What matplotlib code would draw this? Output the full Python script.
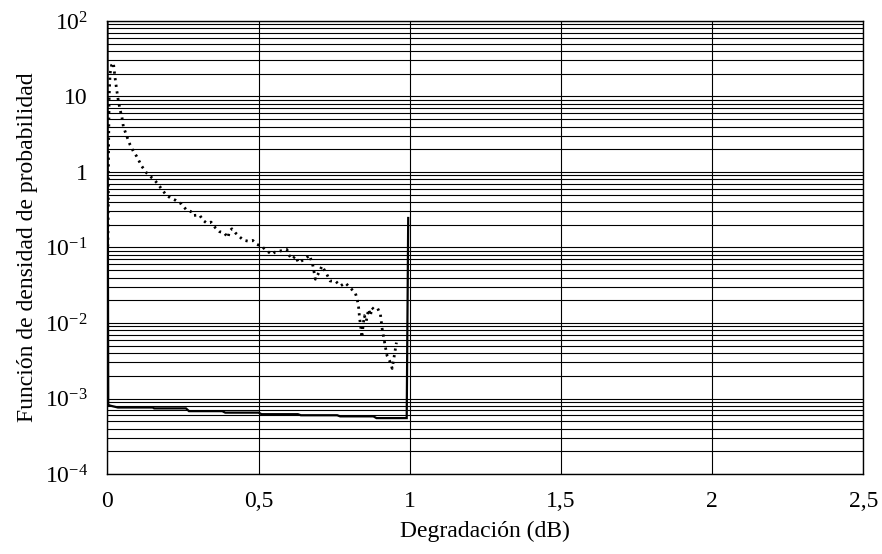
import numpy as np
import matplotlib
matplotlib.use("Agg")
import matplotlib.pyplot as plt
from matplotlib.ticker import FixedLocator, LogLocator, NullFormatter

plt.rcParams['font.family'] = ['Liberation Serif', 'DejaVu Serif']
plt.rcParams['mathtext.fontset'] = 'custom'
plt.rcParams['mathtext.rm'] = 'Liberation Serif'
plt.rcParams['mathtext.it'] = 'Liberation Serif:italic'

# solid curve (step-like)
solid_x = [0.0, 0.003, 0.012, 0.035, 0.15, 0.155, 0.26, 0.27, 0.38, 0.39,
           0.50, 0.51, 0.63, 0.64, 0.76, 0.77, 0.88, 0.89, 0.99, 0.995]
solid_y = [300, 8.2e-4, 8.0e-4, 7.6e-4, 7.6e-4, 7.4e-4, 7.4e-4, 6.8e-4, 6.8e-4, 6.5e-4,
           6.5e-4, 6.2e-4, 6.2e-4, 6.0e-4, 6.0e-4, 5.8e-4, 5.8e-4, 5.5e-4, 5.5e-4, 0.246]

# dotted curve
dot_x = [0.001, 0.003, 0.004, 0.006, 0.009, 0.014, 0.020, 0.025, 0.031, 0.036,
         0.042, 0.048, 0.053, 0.064, 0.075, 0.086, 0.097, 0.114, 0.130, 0.147,
         0.155, 0.169, 0.180, 0.194, 0.208, 0.227, 0.244, 0.260, 0.276, 0.283,
         0.305, 0.316, 0.329, 0.343, 0.357, 0.371, 0.386, 0.399, 0.404, 0.412,
         0.423, 0.437, 0.450, 0.467, 0.481, 0.495, 0.511, 0.528, 0.544, 0.555,
         0.572, 0.594, 0.599, 0.611, 0.622, 0.632, 0.655, 0.669, 0.680, 0.688,
         0.699, 0.710, 0.726, 0.737, 0.754, 0.771, 0.787, 0.804, 0.820, 0.826,
         0.831, 0.834, 0.839, 0.842, 0.846, 0.850, 0.856, 0.864, 0.870, 0.875,
         0.881, 0.894, 0.903, 0.909, 0.914, 0.920, 0.925, 0.936, 0.942, 0.949,
         0.956]
dot_y = [0.056, 0.3, 2.0, 10.0, 20.0, 26.0, 28.0, 18.4, 12.2, 9.0,
         6.7, 5.4, 4.0, 3.0, 2.3, 1.88, 1.61, 1.19, 0.97, 0.84,
         0.79, 0.68, 0.59, 0.50, 0.455, 0.42, 0.38, 0.32, 0.30, 0.265,
         0.27, 0.23, 0.21, 0.217, 0.183, 0.162, 0.157, 0.135, 0.165, 0.177,
         0.157, 0.139, 0.125, 0.121, 0.124, 0.110, 0.103, 0.090, 0.081, 0.087,
         0.090, 0.094, 0.081, 0.070, 0.077, 0.063, 0.071, 0.079, 0.057, 0.038,
         0.046, 0.057, 0.044, 0.036, 0.036, 0.031, 0.034, 0.029, 0.025, 0.021,
         0.016, 0.0118, 0.0083, 0.0064, 0.0095, 0.0125, 0.0105, 0.0152, 0.0125, 0.016,
         0.0152, 0.0156, 0.0131, 0.0083, 0.0064, 0.0047, 0.0037, 0.0030, 0.0025, 0.0037,
         0.0055]

xticks = [0, 0.5, 1, 1.5, 2, 2.5]
xtick_labels = ['0', '0,5', '1', '1,5', '2', '2,5']
yticks = [1e-4, 1e-3, 1e-2, 1e-1, 1, 10, 100]
ytick_labels = ['$10^{-4}$', '$10^{-3}$', '$10^{-2}$', '$10^{-1}$', '1', '10', '$10^{2}$']

fig = plt.figure(figsize=(8.82, 5.54), dpi=100)
ax = fig.add_axes([0.1217, 0.1444, 0.8571, 0.8177])

ax.plot(solid_x, solid_y, color='black', lw=1.6, solid_joinstyle='miter')
ax.plot(dot_x, dot_y, color='black', lw=2.0, linestyle=(0, (0.8, 1.6)))

ax.set_yscale('log')
ax.set_xlim(0, 2.5)
ax.set_ylim(1e-4, 1e2)

ax.xaxis.set_major_locator(FixedLocator(xticks))
ax.set_xticklabels(xtick_labels)
ax.yaxis.set_major_locator(FixedLocator(yticks))
ax.set_yticklabels(ytick_labels)
ax.yaxis.set_minor_locator(LogLocator(base=10, subs=np.arange(2, 10)))
ax.yaxis.set_minor_formatter(NullFormatter())

ax.grid(True, which='major', axis='both', color='black', lw=0.8)
ax.grid(True, which='minor', axis='y', color='black', lw=0.8)
ax.set_axisbelow(True)
ax.tick_params(which='both', length=0, labelsize=17)
ax.tick_params(axis='x', pad=12)
ax.tick_params(axis='y', pad=14)
for s in ax.spines.values():
    s.set_linewidth(1.0)

ax.set_xlabel('Degradación (dB)', fontsize=17)
ax.set_ylabel('Función de densidad de probabilidad', fontsize=17)
ax.xaxis.set_label_coords(0.5, -0.104)
ax.yaxis.set_label_coords(-0.092, 0.5)

fig.savefig('out.png', dpi=100)
